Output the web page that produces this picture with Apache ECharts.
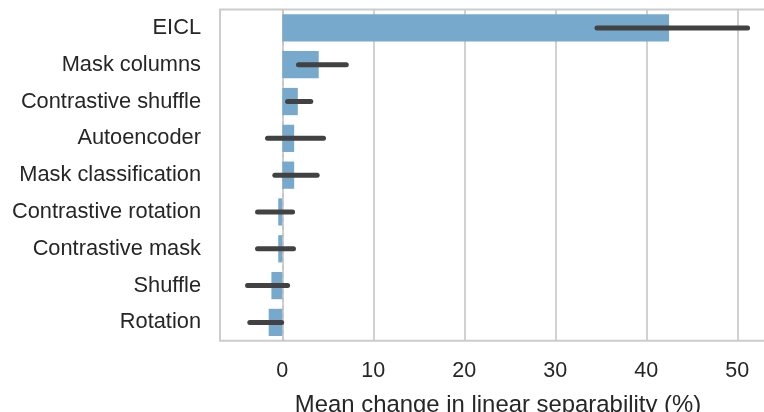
<!DOCTYPE html>
<html>
<head>
<meta charset="utf-8">
<script src="https://cdn.jsdelivr.net/npm/echarts@6/dist/echarts.min.js"></script>
<style>html,body{margin:0;padding:0;background:#fff}#c{width:764px;height:412px}</style>
</head>
<body>
<div id="c"></div>
<script>
var categories = ['EICL','Mask columns','Contrastive shuffle','Autoencoder','Mask classification','Contrastive rotation','Contrastive mask','Shuffle','Rotation'];
var means = [42.5, 4.0, 1.7, 1.3, 1.3, -0.45, -0.45, -1.2, -1.5];
var ciLow = [34.3, 1.5, 0.3, -1.9, -1.1, -3.0, -3.0, -4.1, -3.85];
var ciHigh = [51.4, 7.3, 3.4, 4.8, 4.1, 1.4, 1.5, 0.85, 0.2];
var xTicks = [0, 10, 20, 30, 40, 50];

var font = '"Liberation Sans", Arial, sans-serif';
var chart = echarts.init(document.getElementById('c'), null, {renderer: 'canvas'});
var errData = categories.map(function (c, i) { return [ciLow[i], ciHigh[i], i]; });

chart.setOption({
  animation: false,
  grid: {left: 220, top: 9.5, width: 556, height: 331.3, show: true, borderColor: '#cccccc', borderWidth: 2,
    containLabel: false, outerBoundsMode: 'none'},
  xAxis: {
    type: 'value', min: -6.85, max: 54.25,
    name: 'Mean change in linear separability (%)', nameLocation: 'middle', nameGap: 53, nameMoveOverlap: false,
    nameTextStyle: {fontFamily: font, fontSize: 23.9, color: '#262626'},
    axisLine: {show: false}, axisTick: {show: false},
    axisLabel: {fontFamily: font, fontSize: 21.5, color: '#262626', margin: 19, showMinLabel: false, showMaxLabel: false,
      formatter: function (v) { return xTicks.indexOf(v) >= 0 ? String(v) : ''; }},
    splitLine: {show: true, lineStyle: {color: '#cccccc', width: 1.8}}
  },
  yAxis: {
    type: 'category', data: categories, inverse: true,
    axisLine: {show: false}, axisTick: {show: false},
    axisLabel: {fontFamily: font, fontSize: 21.8, color: '#262626', margin: 19},
    splitLine: {show: false}
  },
  series: [
    {
      type: 'bar', data: means, barWidth: '74%',
      itemStyle: {color: '#76a9cb'},
      markLine: {
        silent: true, symbol: 'none', label: {show: false}, z: 1,
        lineStyle: {color: '#c4c4c4', type: [4, 4], width: 1.6},
        data: [{xAxis: 0}]
      },
      z: 2
    },
    {
      type: 'custom', z: 5,
      encode: {x: [0, 1], y: 2},
      data: errData,
      renderItem: function (params, api) {
        var p1 = api.coord([api.value(0), api.value(2)]);
        var p2 = api.coord([api.value(1), api.value(2)]);
        return {type: 'line', shape: {x1: p1[0] + 2.5, y1: p1[1], x2: p2[0] - 2.5, y2: p2[1]},
          style: {stroke: '#424242', lineWidth: 5, lineCap: 'round'}};
      }
    }
  ]
});
</script>
</body>
</html>
